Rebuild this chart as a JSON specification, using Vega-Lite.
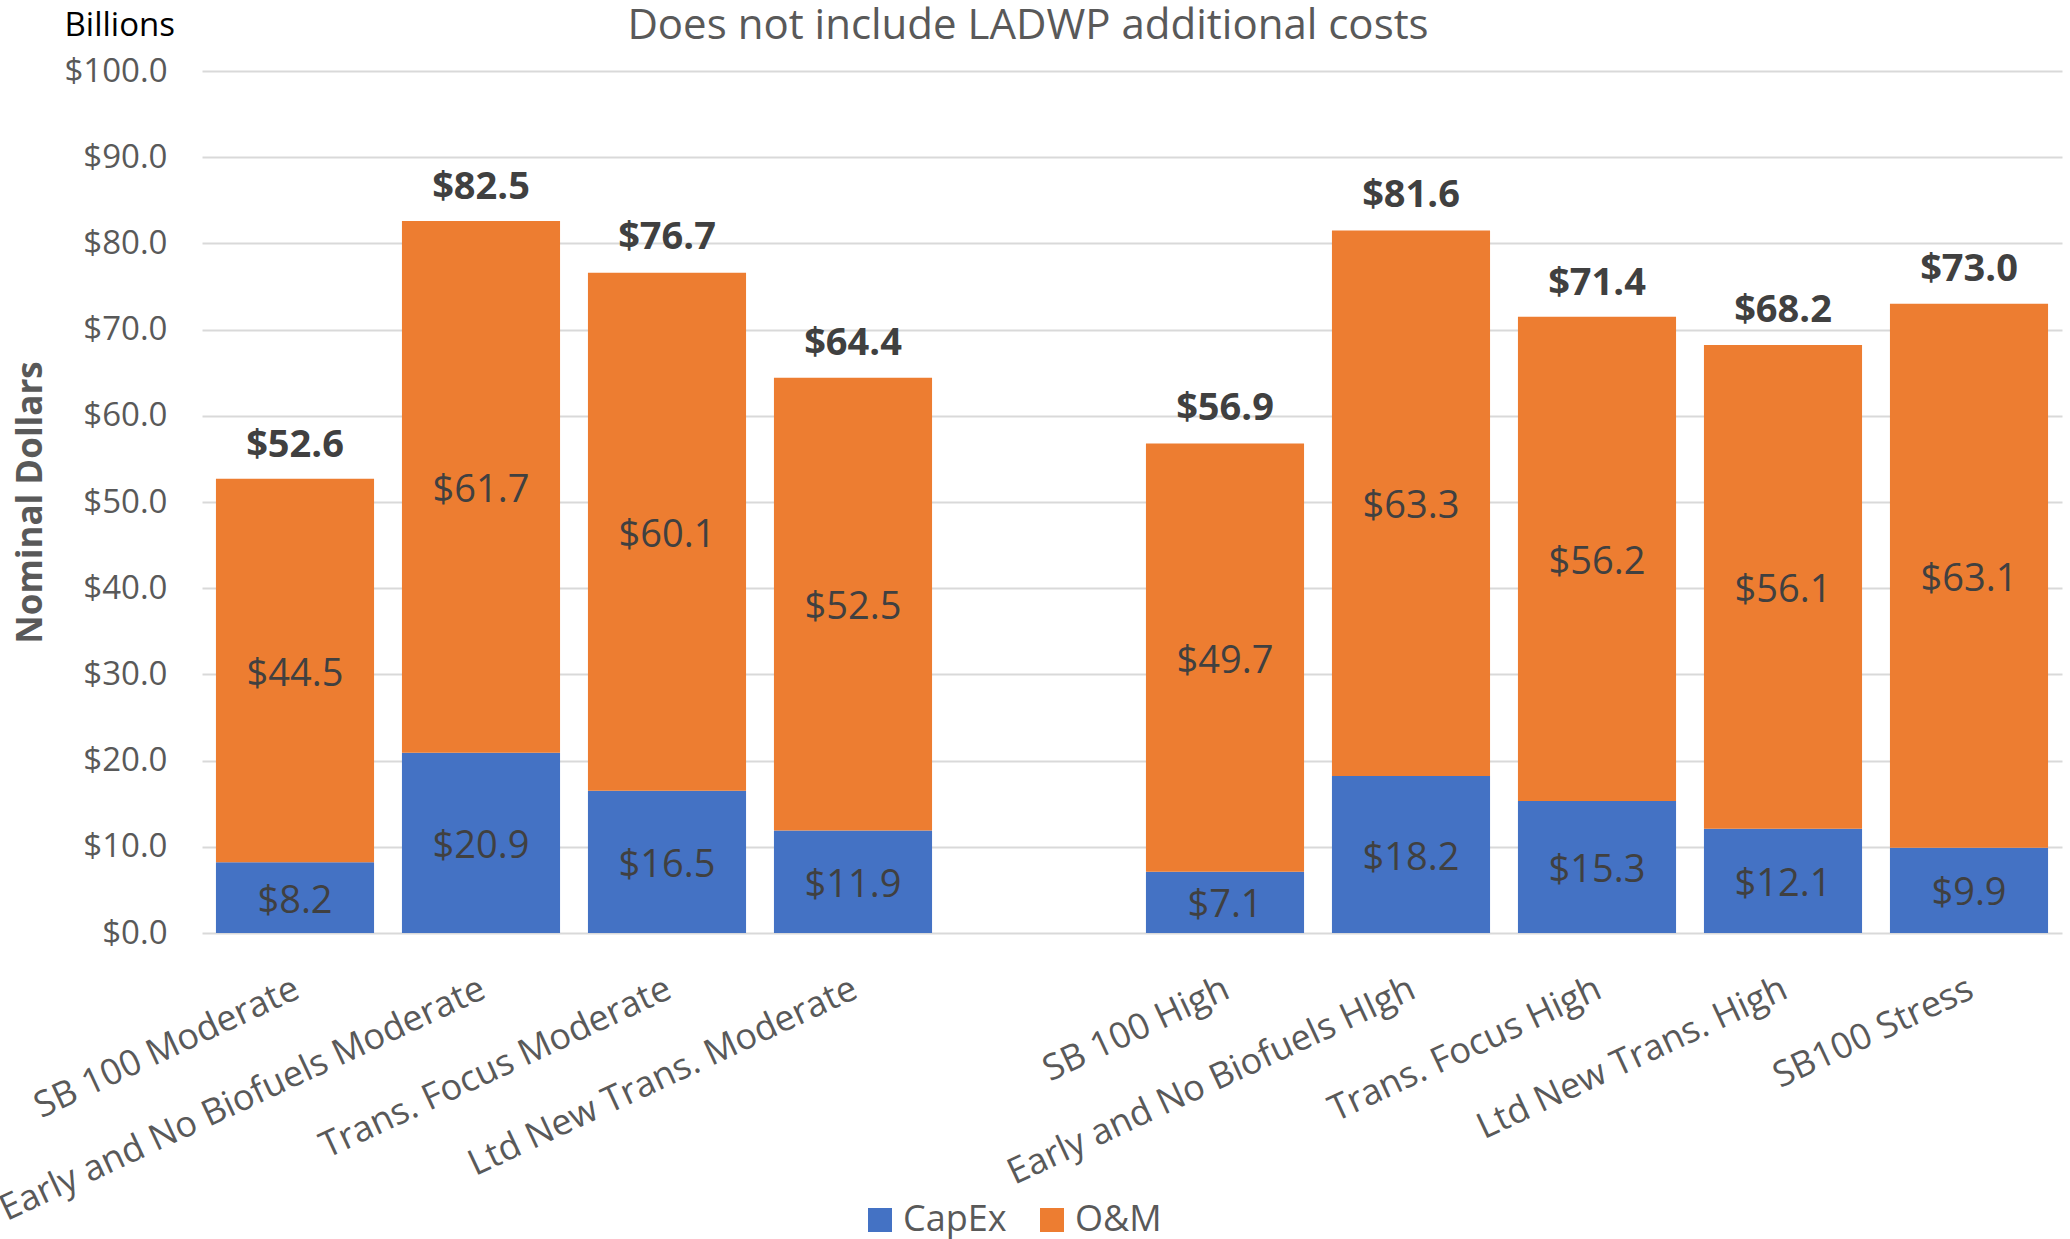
{
  "$schema": "https://vega.github.io/schema/vega-lite/v6.json",
  "autosize": {"type": "none"},
  "width": 1860,
  "height": 862,
  "padding": {"left": 202, "top": 71, "right": 8, "bottom": 306},
  "background": "white",
  "config": {"view": {"stroke": null}, "font": "Open Sans"},
  "title": {
    "text": "Does not include LADWP additional costs",
    "fontSize": 42,
    "font": "Open Sans",
    "fontWeight": "normal",
    "color": "#595959",
    "anchor": "middle",
    "frame": "bounds",
    "baseline": "alphabetic",
    "offset": -72,
    "dx": 0
  },
  "datasets": {
    "parts": [
      {"scenario": "SB 100 Moderate", "component": "CapEx", "value": 8.2},
      {"scenario": "SB 100 Moderate", "component": "O&M", "value": 44.5},
      {"scenario": "Early and No Biofuels Moderate", "component": "CapEx", "value": 20.9},
      {"scenario": "Early and No Biofuels Moderate", "component": "O&M", "value": 61.7},
      {"scenario": "Trans. Focus Moderate", "component": "CapEx", "value": 16.5},
      {"scenario": "Trans. Focus Moderate", "component": "O&M", "value": 60.1},
      {"scenario": "Ltd New Trans. Moderate", "component": "CapEx", "value": 11.9},
      {"scenario": "Ltd New Trans. Moderate", "component": "O&M", "value": 52.5},
      {"scenario": "SB 100 High", "component": "CapEx", "value": 7.1},
      {"scenario": "SB 100 High", "component": "O&M", "value": 49.7},
      {"scenario": "Early and No Biofuels HIgh", "component": "CapEx", "value": 18.2},
      {"scenario": "Early and No Biofuels HIgh", "component": "O&M", "value": 63.3},
      {"scenario": "Trans. Focus High", "component": "CapEx", "value": 15.3},
      {"scenario": "Trans. Focus High", "component": "O&M", "value": 56.2},
      {"scenario": "Ltd New Trans. High", "component": "CapEx", "value": 12.1},
      {"scenario": "Ltd New Trans. High", "component": "O&M", "value": 56.1},
      {"scenario": "SB100 Stress", "component": "CapEx", "value": 9.9},
      {"scenario": "SB100 Stress", "component": "O&M", "value": 63.1}
    ],
    "totals": [
      {"scenario": "SB 100 Moderate", "total": 52.6},
      {"scenario": "Early and No Biofuels Moderate", "total": 82.5},
      {"scenario": "Trans. Focus Moderate", "total": 76.7},
      {"scenario": "Ltd New Trans. Moderate", "total": 64.4},
      {"scenario": "SB 100 High", "total": 56.9},
      {"scenario": "Early and No Biofuels HIgh", "total": 81.6},
      {"scenario": "Trans. Focus High", "total": 71.4},
      {"scenario": "Ltd New Trans. High", "total": 68.2},
      {"scenario": "SB100 Stress", "total": 73.0}
    ]
  },
  "layer": [
    {
      "data": {"name": "parts"},
      "mark": {"type": "bar"},
      "encoding": {
        "x": {
          "field": "scenario",
          "type": "nominal",
          "sort": null,
          "scale": {
            "domain": ["SB 100 Moderate", "Early and No Biofuels Moderate", "Trans. Focus Moderate", "Ltd New Trans. Moderate", " ", "SB 100 High", "Early and No Biofuels HIgh", "Trans. Focus High", "Ltd New Trans. High", "SB100 Stress"],
            "paddingInner": 0.15,
            "paddingOuter": 0.075
          },
          "axis": {
            "title": null,
            "labelAngle": -25,
            "labelAlign": "right",
            "labelBaseline": "top",
            "labelPadding": 38,
            "labelOffset": -5,
            "ticks": false,
            "domain": false,
            "labelFontSize": 36,
            "labelFont": "Open Sans",
            "labelColor": "#595959",
            "labelOverlap": false,
            "labelLimit": 1000
          }
        },
        "y": {
          "field": "value",
          "type": "quantitative",
          "stack": "zero",
          "scale": {"domain": [0, 100], "nice": false},
          "axis": {
            "values": [0, 10, 20, 30, 40, 50, 60, 70, 80, 90, 100],
            "format": "$.1f",
            "labelFontSize": 33,
            "labelFont": "Open Sans",
            "labelColor": "#595959",
            "labelPadding": 35,
            "ticks": false,
            "domain": false,
            "grid": true,
            "gridColor": "#D9D9D9",
            "gridWidth": 2,
            "title": "Nominal Dollars",
            "titleFont": "Open Sans",
            "titleFontSize": 35,
            "titleFontWeight": "bold",
            "titleColor": "#595959",
            "titlePadding": 15
          }
        },
        "color": {
          "field": "component",
          "type": "nominal",
          "scale": {"domain": ["CapEx", "O&M"], "range": ["#4472C4", "#ED7D31"]},
          "legend": {
            "orient": "none",
            "legendX": 660,
            "legendY": 1131,
            "direction": "horizontal",
            "title": null,
            "symbolType": "square",
            "symbolSize": 576,
            "symbolStrokeWidth": 0,
            "labelFontSize": 36,
            "labelFont": "Open Sans",
            "labelColor": "#595959",
            "columnPadding": 27,
            "labelOffset": 5,
            "padding": 0
          }
        },
        "order": {"field": "component", "sort": "ascending"}
      }
    },
    {
      "data": {"name": "parts"},
      "transform": [
        {"stack": "value", "groupby": ["scenario"], "sort": [{"field": "component", "order": "ascending"}], "as": ["v0", "v1"]},
        {"calculate": "(datum.v0 + datum.v1) / 2", "as": "mid"}
      ],
      "mark": {"type": "text", "fontSize": 38, "font": "Open Sans", "color": "#404040", "baseline": "middle", "dy": 4},
      "encoding": {
        "x": {"field": "scenario", "type": "nominal", "sort": null, "axis": null},
        "y": {"field": "mid", "type": "quantitative", "title": "Nominal Dollars"},
        "text": {"field": "value", "type": "quantitative", "format": "$.1f"}
      }
    },
    {
      "data": {"name": "totals"},
      "mark": {"type": "text", "fontSize": 38, "font": "Open Sans", "fontWeight": "bold", "color": "#404040", "baseline": "alphabetic", "dy": -23},
      "encoding": {
        "x": {
          "field": "scenario",
          "type": "nominal",
          "sort": null,
          "axis": {
            "orient": "top",
            "labels": false,
            "ticks": false,
            "domain": false,
            "grid": false,
            "title": "Billions",
            "titleFont": "Open Sans",
            "titleFontSize": 33,
            "titleFontWeight": "normal",
            "titleColor": "#000000",
            "titleAngle": 0,
            "titleX": -138,
            "titleY": -36,
            "titleAlign": "left",
            "titleBaseline": "alphabetic"
          }
        },
        "y": {"field": "total", "type": "quantitative", "title": "Nominal Dollars"},
        "text": {"field": "total", "type": "quantitative", "format": "$.1f"}
      }
    }
  ],
  "resolve": {"axis": {"x": "independent"}}
}
